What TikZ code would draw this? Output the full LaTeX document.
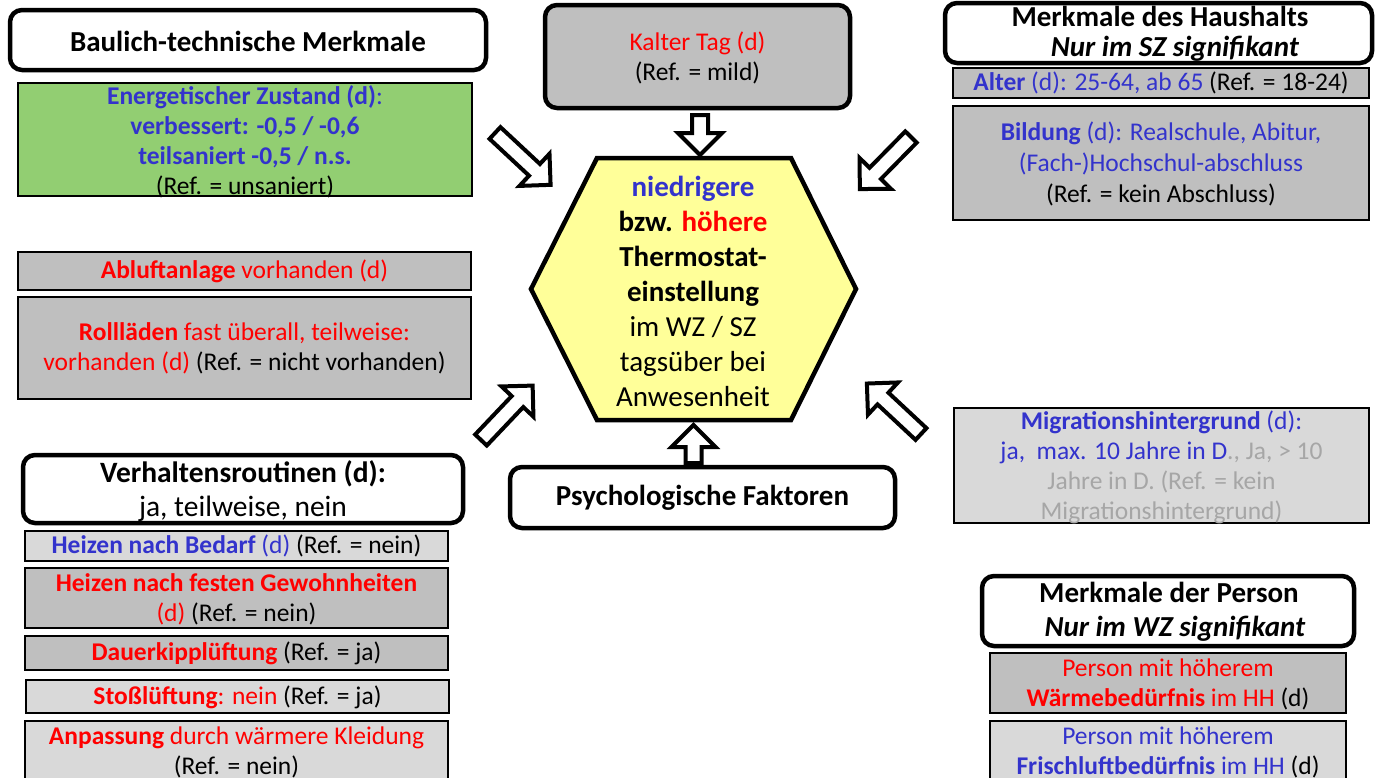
\documentclass[tikz,border=0pt]{standalone}
\usepackage{fontspec}
\setmainfont{Carlito}
\definecolor{myblue}{RGB}{51,51,204}
\definecolor{myred}{RGB}{255,0,0}
\definecolor{midgray}{RGB}{191,191,191}
\definecolor{lightgray}{RGB}{217,217,217}
\definecolor{greenfill}{RGB}{146,206,114}
\definecolor{hexfill}{RGB}{255,255,153}
\definecolor{fadedtext}{RGB}{166,166,166}
\tikzset{
  headbox/.style={draw, line width=4.5pt, rounded corners=12pt, fill=white, inner sep=0pt},
  factbox/.style={draw, line width=1.5pt, inner sep=0pt},
  txt/.style={align=center, inner sep=0pt, font=\fontsize{25.5}{30}\selectfont},
  headtxt/.style={align=center, inner sep=0pt, font=\fontsize{29}{30}\selectfont\bfseries},
  arrowline/.style={draw, line width=4pt, fill=white, line join=miter},
  pics/hollowarrow/.style={code={
    \draw[arrowline] (0,-8) -- (#1-22,-8) -- (#1-22,-22) -- (#1,0)
      -- (#1-22,22) -- (#1-22,8) -- (0,8) -- cycle;}}
}
\begin{document}
\begin{tikzpicture}[x=1pt,y=-1pt]
\useasboundingbox (0,0) rectangle (1376,777);

% ---------- left column: building features ----------
\node[headbox, minimum width=476pt, minimum height=60pt] (bau) at (248,40) {};
\node[headtxt] (bau-t) at (248,41) {Baulich-technische Merkmale};

\node[factbox, fill=greenfill, minimum width=454pt, minimum height=113pt] (energ) at (245,139.5) {};
\node[txt] (energ-t) at (245,142) {%
  \textcolor{myblue}{\textbf{Energetischer Zustand (d)}:}\\
  \textcolor{myblue}{\textbf{verbessert: -0,5 / -0,6}}\\
  \textcolor{myblue}{\textbf{teilsaniert -0,5 / n.s.}}\\
  (Ref. = unsaniert)};

\node[factbox, fill=midgray, minimum width=453pt, minimum height=38pt] (abluft) at (244.5,271) {};
\node[txt] (abluft-t) at (244.5,271) {\textcolor{myred}{\textbf{Abluftanlage} vorhanden (d)}};

\node[factbox, fill=midgray, minimum width=453pt, minimum height=102pt] (roll) at (244.5,348) {};
\node[txt] (roll-t) at (244.5,348) {%
  \textcolor{myred}{\textbf{Rollläden} fast überall, teilweise:}\\
  \textcolor{myred}{vorhanden (d)} (Ref. = nicht vorhanden)};

% ---------- left column: behaviour routines ----------
\node[headbox, minimum width=440pt, minimum height=68pt] (verh) at (243,489) {};
\node[align=center, inner sep=0pt, font=\fontsize{29.5}{34}\selectfont] (verh-t) at (243,491) {%
  \textbf{Verhaltensroutinen (d):}\\ ja, teilweise, nein};

\node[factbox, fill=lightgray, minimum width=423pt, minimum height=30pt] (bedarf) at (236.5,546) {};
\node[txt] (bedarf-t) at (236.5,546) {\textcolor{myblue}{\textbf{Heizen nach Bedarf} (d)} (Ref. = nein)};

\node[factbox, fill=midgray, minimum width=423pt, minimum height=60pt] (gewohn) at (236.5,598) {};
\node[txt] (gewohn-t) at (236.5,599) {%
  \textcolor{myred}{\textbf{Heizen nach festen Gewohnheiten}}\\
  \textcolor{myred}{(d)} (Ref. = nein)};

\node[factbox, fill=midgray, minimum width=423pt, minimum height=34pt] (kipp) at (236.5,653) {};
\node[txt] (kipp-t) at (236.5,653) {\textcolor{myred}{\textbf{Dauerkipplüftung}} (Ref. = ja)};

\node[factbox, fill=lightgray, minimum width=423pt, minimum height=33pt] (stoss) at (237.5,696.5) {};
\node[txt] (stoss-t) at (237.5,697) {\textcolor{myred}{\textbf{Stoßlüftung}: nein} (Ref. = ja)};

\node[factbox, fill=lightgray, minimum width=423pt, minimum height=80pt] (anpass) at (236.5,761) {};
\node[txt] (anpass-t) at (236.5,752) {%
  \textcolor{myred}{\textbf{Anpassung} durch wärmere Kleidung}\\
  (Ref. = nein)};

% ---------- top centre: weather ----------
\node[headbox, fill=midgray, minimum width=305pt, minimum height=103pt] (kalt) at (697.5,56.5) {};
\node[txt] (kalt-t) at (697.5,58) {\textcolor{myred}{Kalter Tag (d)}\\ (Ref. = mild)};

% ---------- centre: outcome ----------
\coordinate (h1) at (597,158);
\coordinate (h2) at (791,158);
\coordinate (h3) at (856,289);
\coordinate (h4) at (791,420);
\coordinate (h5) at (597,420);
\coordinate (h6) at (531,289);
\draw[line width=4.5pt, fill=hexfill, line join=miter]
  (h1) -- (h2) -- (h3) -- (h4) -- (h5) -- (h6) -- cycle;
\node[align=center, inner sep=0pt, font=\fontsize{29}{35}\selectfont] (ziel) at (693,291) {%
  \textcolor{myblue}{\textbf{niedrigere}}\\
  \textbf{bzw. \textcolor{myred}{höhere}}\\
  \textbf{Thermostat-}\\
  \textbf{einstellung}\\
  im WZ / SZ\\
  tagsüber bei\\
  Anwesenheit};

% ---------- bottom centre: psychology ----------
\node[headbox, minimum width=385pt, minimum height=61pt] (psych) at (702.5,497.5) {};
\node[headtxt] (psych-t) at (702.5,498) {Psychologische Faktoren};

% ---------- right column: household ----------
\node[headbox, minimum width=427pt, minimum height=60pt] (haus) at (1158.5,33) {};
\node[headtxt] (haus-t) at (1160,34) {%
  Merkmale des Haushalts\\ \hspace*{30pt}\textit{Nur im SZ signifikant}};

\node[factbox, fill=midgray, minimum width=416pt, minimum height=30pt] (alter) at (1161,83) {};
\node[txt] (alter-t) at (1161,83) {\textcolor{myblue}{\textbf{Alter} (d): 25-64, ab 65} (Ref. = 18-24)};

\node[factbox, fill=midgray, minimum width=416pt, minimum height=114pt] (bild) at (1161,163) {};
\node[txt, font=\fontsize{25.5}{31}\selectfont] (bild-t) at (1161,164) {%
  \textcolor{myblue}{\textbf{Bildung} (d): Realschule, Abitur,}\\
  \textcolor{myblue}{(Fach-)Hochschul-abschluss}\\
  (Ref. = kein Abschluss)};

\node[factbox, fill=lightgray, minimum width=415pt, minimum height=115pt] (migr) at (1161.5,465.5) {};
\node[txt] (migr-t) at (1161.5,467) {%
  \textcolor{myblue}{\textbf{Migrationshintergrund} (d):}\\
  \textcolor{myblue}{ja,\ \ max. 10 Jahre in D}\textcolor{fadedtext}{., Ja, > 10}\\
  \textcolor{fadedtext}{Jahre in D. (Ref. = kein}\\
  \textcolor{fadedtext}{Migrationshintergrund)}};

% ---------- right column: person ----------
\node[headbox, minimum width=372pt, minimum height=70pt] (pers) at (1168,611) {};
\node[headtxt, font=\fontsize{29}{34}\selectfont\bfseries] (pers-t) at (1169,612) {%
  Merkmale der Person\\ \hspace*{12pt}\textit{Nur im WZ signifikant}};

\node[factbox, fill=midgray, minimum width=356pt, minimum height=60pt] (waerme) at (1168,683) {};
\node[txt] (waerme-t) at (1168,684) {%
  \textcolor{myred}{Person mit höherem}\\
  \textcolor{myred}{\textbf{Wärmebedürfnis} im HH} (d)};

\node[factbox, fill=lightgray, minimum width=356pt, minimum height=80pt] (frisch) at (1168,761) {};
\node[txt] (frisch-t) at (1168,752.5) {%
  \textcolor{myblue}{Person mit höherem}\\
  \textcolor{myblue}{\textbf{Frischluftbedürfnis} im HH} (d)};

% ---------- influence arrows towards the outcome ----------
\coordinate (a-bau) at (495,133);
\coordinate (a-verh) at (481,440);
\coordinate (a-haus) at (911,137);
\coordinate (a-migr) at (921,434);
\coordinate (a-kalt) at (700,115);
\coordinate (a-psych) at (693.5,463);
\pic[rotate=-43] at (a-bau) {hollowarrow=76};
\pic[rotate=46.5] at (a-verh) {hollowarrow=75};
\pic[rotate=-134.5] at (a-haus) {hollowarrow=73};
\pic[rotate=137] at (a-migr) {hollowarrow=74};
\pic[rotate=-90] at (a-kalt) {hollowarrow=40};
\pic[rotate=90] at (a-psych) {hollowarrow=38};
\end{tikzpicture}
\end{document}
